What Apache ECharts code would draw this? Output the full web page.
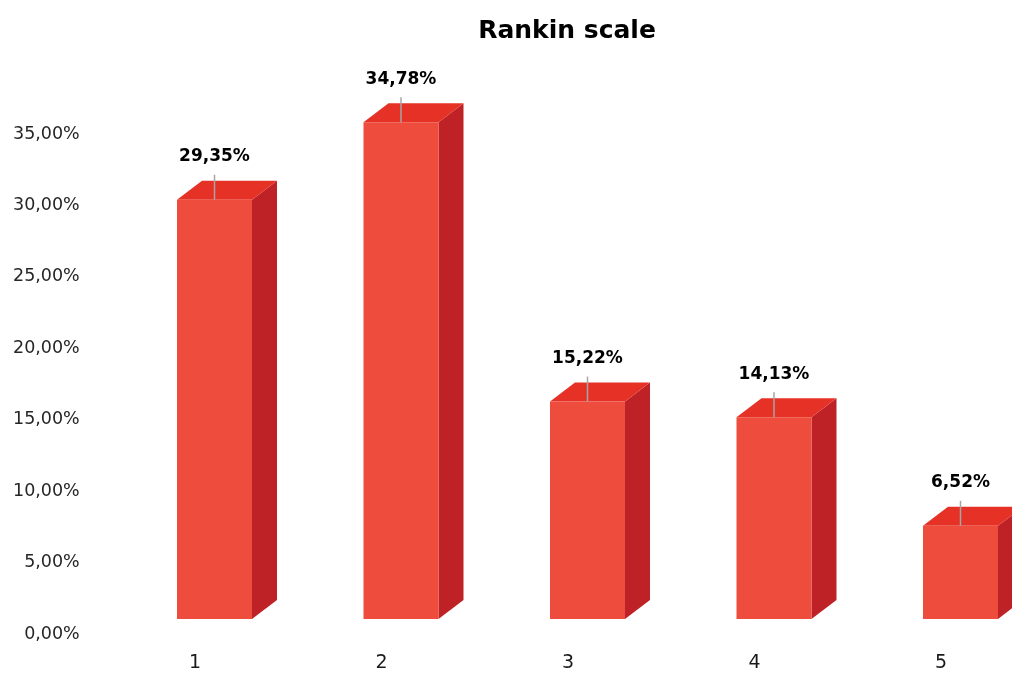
<!DOCTYPE html>
<html><head><meta charset="utf-8">
<script src="https://cdn.jsdelivr.net/npm/echarts@6/dist/echarts.min.js"></script>
<style>html,body{margin:0;padding:0;background:#fff}#c{width:1012px;height:675px}</style>
</head><body><div id="c"></div>
<script>
var categories = ['1', '2', '3', '4', '5'];
var values = [29.35, 34.78, 15.22, 14.13, 6.52];
var yTicks = [0, 5, 10, 15, 20, 25, 30, 35];

function fmt(v) { return v.toFixed(2).replace('.', ',') + '%'; }

var FONT = 'DejaVu Sans';
var chart = echarts.init(document.getElementById('c'));
chart.setOption({
  backgroundColor: '#fff',
  animation: false,
  title: {
    text: 'Rankin scale', left: 562, top: 14, textAlign: 'center',
    textStyle: { fontFamily: FONT, fontWeight: 'bold', fontSize: 25, color: '#000' }
  },
  grid: { left: 101.75, width: 932.5, top: 134, bottom: 41, outerBoundsMode: 'none', containLabel: false },
  xAxis: {
    type: 'category', data: categories,
    axisLine: { show: false }, axisTick: { show: false },
    axisLabel: { margin: 20, fontFamily: FONT, fontSize: 19, color: '#1a1a1a' }
  },
  yAxis: {
    type: 'value', min: yTicks[0], max: yTicks[yTicks.length - 1], interval: 5,
    splitLine: { show: false }, axisLine: { show: false }, axisTick: { show: false },
    axisLabel: { margin: 22, fontFamily: FONT, fontSize: 17.5, color: '#262626',
      formatter: function (v) { return fmt(v); } }
  },
  series: [{
    type: 'custom',
    clip: false,
    data: values.map(function (v, i) { return [i, v]; }),
    renderItem: function (params, api) {
      var i = api.value(0), v = api.value(1);
      var base = api.coord([i, 0]);
      var topP = api.coord([i, v]);
      var off = 15, dx = 25, dy = 19;
      var x0 = base[0] - 18, x1 = base[0] + 57;
      var yb = base[1] - off, yt = topP[1] - off;
      var cx = (x0 + x1) / 2;
      return {
        type: 'group',
        children: [
          { type: 'polygon', shape: { points: [[x1, yt], [x1 + dx, yt - dy], [x1 + dx, yb - dy], [x1, yb]] },
            style: { fill: '#BE2226' } },
          { type: 'polygon', shape: { points: [[x0, yt], [x1, yt], [x1 + dx, yt - dy], [x0 + dx, yt - dy]] },
            style: { fill: '#E63126' } },
          { type: 'rect', shape: { x: x0, y: yt, width: x1 - x0, height: yb - yt },
            style: { fill: '#EE4C3C' } },
          { type: 'line', shape: { x1: cx, y1: yt - 25, x2: cx, y2: yt },
            style: { stroke: '#A6A6A6', lineWidth: 1.5 } },
          { type: 'text', x: cx, y: yt - 43,
            style: { text: fmt(v), fontFamily: FONT, fontWeight: 'bold', fontSize: 17, fill: '#000',
              align: 'center', verticalAlign: 'middle' } }
        ]
      };
    }
  }]
});
</script></body></html>
